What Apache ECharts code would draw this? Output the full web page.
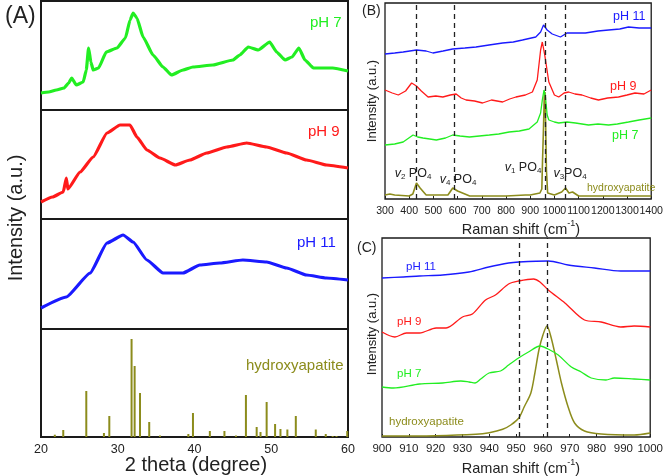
<!DOCTYPE html>
<html><head><meta charset="utf-8">
<script src="https://cdn.jsdelivr.net/npm/echarts@6/dist/echarts.min.js"></script>
<style>html,body{margin:0;padding:0;background:#fff}#c{width:666px;height:476px}</style>
</head><body><div id="c"></div>
<script>
// ---- Panel A: XRD (2 theta, intensity a.u.) ----
const xrdTicks = [20, 30, 40, 50, 60];
const xrdPH7 = [[20,17],[21,18],[22,20],[23,22],[23.6,27],[24,32],[24.6,25],[25.5,28],[25.9,40],[26.2,62],[26.5,48],[26.8,40],[27.5,42],[28.5,58],[29.9,62],[31,72],[31.6,90],[32,97],[32.5,92],[33.3,73],[34.6,55],[35.9,43],[37,35],[38.5,40],[39.8,43],[42.4,45],[45,50],[45.9,55],[47,63],[48.3,60],[49.8,68],[50.7,58],[51.8,50],[52.7,53],[53.6,62],[54.4,50],[55.5,42],[58,42],[60,39]];
const xrdPH9 = [[20,17],[21.5,22],[22.9,27],[23.3,41],[23.5,30],[25.1,47],[26.8,62],[28.6,86],[30.3,94],[31.6,94],[32.5,82],[33.8,69],[35.5,61],[37.5,54],[39.4,59],[41.6,66],[44.2,72],[46.8,76],[49.4,72],[52,66],[54.6,59],[57.2,54],[60,51]];
const xrdPH11 = [[20,21],[23.3,32],[26.4,56],[28.6,86],[30.7,94],[32,87],[33.8,69],[35.9,56],[38.5,56],[40.7,64],[43.3,66],[46.3,69],[49.4,67],[52,61],[54.6,54],[57.2,51],[60,49]];
const hapSticks = [[21.8,2.3],[22.9,7],[25.9,46],[28.2,4],[28.9,21],[31.8,98],[32.2,71],[32.9,44],[34.1,15],[35.5,1.5],[39.2,3],[39.8,24],[42.0,6],[43.9,6],[45.4,1.5],[46.7,42],[48.1,10],[48.6,5],[49.4,35],[50.5,13],[51.2,8],[52.1,7.5],[53.2,21],[55.8,7.5],[57.1,3],[58,1],[58.5,1],[59.9,6]];

// ---- Panel B: Raman 300-1400 ----
const ramanBTicks = [300,400,500,600,700,800,900,1000,1100,1200,1300,1400];
const ramanBPH11 = [[300,145],[340,146],[375,147],[430,149],[470,148],[498,146],[540,148],[580,150],[630,151],[676,152],[730,154],[786,156],[830,157],[868,159],[923,162],[943,167],[955,174],[970,169],[991,165],[1025,162],[1052,166],[1090,166],[1128,166],[1180,168],[1224,169],[1270,170],[1306,172],[1350,171],[1400,171]];
const ramanBPH9 = [[300,109],[330,106],[355,104],[385,108],[410,116],[430,113],[450,108],[478,102],[510,103],[539,102],[570,104],[594,105],[615,101],[635,99],[670,98],[703,96],[740,99],[786,97],[815,100],[841,102],[880,104],[909,107],[929,119],[943,149],[950,157],[960,144],[977,117],[1000,104],[1018,102],[1040,106],[1059,107],[1085,105],[1114,104],[1150,101],[1182,99],[1220,101],[1265,102],[1300,104],[1333,106],[1370,105],[1400,109]];
const ramanBPH7 = [[300,54],[340,55],[375,57],[416,64],[435,62],[457,61],[485,60],[512,59],[550,61],[580,64],[610,63],[649,62],[690,63],[731,64],[770,65],[813,67],[855,68],[895,70],[929,77],[943,86],[950,99],[957,109],[963,102],[970,84],[977,79],[1000,77],[1018,76],[1052,77],[1087,76],[1141,74],[1180,75],[1224,74],[1260,75],[1306,77],[1350,79],[1400,81]];
const ramanBHap = [[300,4],[320,5],[340,4],[400,3],[415,5],[430,16],[445,11],[470,4],[560,4],[580,11],[588,11],[600,8],[610,7],[650,3],[800,3],[880,4],[900,4],[940,6],[948,10],[951,39],[955,72],[958,102],[961,107],[964,72],[967,29],[972,6],[1000,4],[1030,7],[1046,11],[1060,6],[1075,7],[1100,3],[1400,3]];
const ramanBDashes = [430, 585, 961, 1046];

// ---- Panel C: Raman 900-1000 ----
const ramanCTicks = [900,910,920,930,940,950,960,970,980,990,1000];
const ramanCPH11 = [[900,159],[908,160],[914,161],[922.6,162],[932.4,165],[939.8,170],[947.2,174],[951,175],[962,176],[969.4,172],[979.2,169],[989,166],[1000,166]];
const ramanCPH9 = [[900,105],[904.8,100],[909.1,104],[914,104],[920.2,109],[923.9,109],[930,120],[933.7,123],[938.6,137],[942.3,142],[947.2,153],[951,156],[956.5,158],[958.9,155],[962,147],[968.2,134],[975.5,117],[981.7,115],[989,110],[994,111],[1000,110]];
const ramanCPH7 = [[900,50],[904.2,49],[914,53],[922.6,54],[929.4,56],[932.5,55],[934.7,54],[936.8,58],[939.9,64],[944.2,66],[947.2,72],[950.9,79],[954.6,85],[958.9,91],[962.6,87],[965.7,82],[970.6,70],[974.3,65],[978,59],[983.5,57],[986.6,59],[994,58],[1000,57]];
const ramanCHap = [[900,1],[920,1.3],[935,2.7],[940,4.3],[945,7.7],[948,12],[951,19],[953,30],[955.5,44],[957,64],[958.5,87],[960,102],[961.5,111],[963,100],[965,77],[966.9,54],[969.4,30],[971.8,14],[975.5,6],[981.7,3],[994,2],[1000,4]];
const ramanCDashes = [951.2, 961.6];

const GREEN = '#22ee22', RED = '#ff1a1a', BLUE = '#1a1aff', OLIVE = '#8c8c1c';
const FONT = 'Liberation Sans, Arial, sans-serif';

const chart = echarts.init(document.getElementById('c'), null, {renderer: 'canvas'});

function grid(l, t, w, h, bw) {
  return {left: l, top: t, width: w, height: h, show: true, borderColor: '#1a1a1a', borderWidth: bw, backgroundColor: 'transparent', containLabel: false};
}
const grids = [
  grid(41, 1, 307, 109, 2),
  grid(41, 110, 307, 109, 2),
  grid(41, 219, 307, 110, 2),
  grid(41, 329, 307, 108, 2),
  grid(385, 3, 268, 196, 1.3),
  grid(382, 238, 271, 199, 1.3)
];
function xA(i, min, max, interval, showLabels, fs, margin, ticks) {
  return {type: 'value', gridIndex: i, min: min, max: max, interval: interval,
    axisLine: {show: false}, splitLine: {show: false},
    axisTick: {show: ticks, inside: true, length: 3, lineStyle: {color: '#222'}},
    minorTick: {show: false},
    axisLabel: {show: showLabels, fontSize: fs, color: '#222', fontFamily: FONT, margin: margin,
      hideOverlap: false, showMinLabel: true, showMaxLabel: true, formatter: v => String(v)}};
}
function yA(i, max) {
  return {type: 'value', gridIndex: i, min: 0, max: max, show: false, splitLine: {show: false}};
}
const xAxes = [
  xA(0, 20, 60, 10, false, 12, 6, false),
  xA(1, 20, 60, 10, false, 12, 6, false),
  xA(2, 20, 60, 10, false, 12, 6, false),
  xA(3, 20, 60, 10, true, 12.5, 6, false),
  xA(4, 300, 1400, 100, true, 10.6, 7, true),
  xA(5, 900, 1000, 10, true, 11.5, 6, true)
];
const yAxes = [yA(0, 109), yA(1, 109), yA(2, 110), yA(3, 108), yA(4, 196), yA(5, 199)];

function line(i, data, color, w, smooth, mono, extra) {
  const s = {type: 'line', xAxisIndex: i, yAxisIndex: i, data: data, showSymbol: false, symbol: 'none',
    smooth: smooth, lineStyle: {color: color, width: w}, itemStyle: {color: color}, silent: true, animation: false};
  if (mono) s.smoothMonotone = 'x';
  return Object.assign(s, extra || {});
}
function dashes(vals) {
  return {silent: true, symbol: 'none', label: {show: false}, animation: false,
    lineStyle: {type: [5, 4], color: '#222', width: 1.3}, data: vals.map(v => ({xAxis: v}))};
}

const series = [
  line(0, xrdPH7, GREEN, 3.2, 0.15, true),
  line(1, xrdPH9, RED, 3.2, 0.15, true),
  line(2, xrdPH11, BLUE, 3.2, 0.15, true),
  {type: 'bar', xAxisIndex: 3, yAxisIndex: 3, data: hapSticks, barWidth: 2, itemStyle: {color: OLIVE}, silent: true, animation: false},
  line(4, ramanBHap, OLIVE, 1.6, false, false, {markLine: dashes(ramanBDashes)}),
  line(4, ramanBPH7, GREEN, 1.3, false, false),
  line(4, ramanBPH9, RED, 1.3, false, false),
  line(4, ramanBPH11, BLUE, 1.3, false, false),
  line(5, ramanCHap, OLIVE, 1.5, 0.3, false, {markLine: dashes(ramanCDashes)}),
  line(5, ramanCPH7, GREEN, 1.3, 0.3, false),
  line(5, ramanCPH9, RED, 1.3, 0.3, false),
  line(5, ramanCPH11, BLUE, 1.3, 0.3, false)
];

function txt(x, y, text, size, color, align, extra) {
  return Object.assign({type: 'text', x: x, y: y, silent: true,
    style: {text: text, fill: color || '#222', font: size + 'px ' + FONT, textAlign: align || 'left', textVerticalAlign: 'middle'}}, extra || {});
}
function richTxt(x, y, text, rich, align) {
  return {type: 'text', x: x, y: y, silent: true,
    style: {text: text, rich: rich, textAlign: align || 'center', textVerticalAlign: 'middle'}};
}
const nuRich = {
  i: {fontSize: 12.5, fontStyle: 'italic', fontFamily: FONT, fill: '#222', verticalAlign: 'bottom', lineHeight: 15},
  s: {fontSize: 8, fontFamily: FONT, fill: '#222', verticalAlign: 'bottom', lineHeight: 11},
  n: {fontSize: 12.5, fontFamily: FONT, fill: '#222', verticalAlign: 'bottom', lineHeight: 15}
};
const ramanRich = {
  a: {fontSize: 14.5, fontFamily: FONT, fill: '#222', verticalAlign: 'bottom', lineHeight: 18},
  u: {fontSize: 9, fontFamily: FONT, fill: '#222', verticalAlign: 'top', lineHeight: 18}
};

const graphics = [
  txt(5, 17, '(A)', 23, '#222'),
  txt(310, 23, 'pH 7', 15, GREEN),
  txt(308, 132, 'pH 9', 15, RED),
  txt(297, 243, 'pH 11', 15, BLUE),
  txt(246, 366, 'hydroxyapatite', 15, OLIVE),
  txt(196, 465, '2 theta (degree)', 20, '#222', 'center'),
  txt(16, 218, 'Intensity (a.u.)', 20, '#222', 'center', {rotation: Math.PI / 2}),
  txt(362, 11, '(B)', 14, '#222'),
  txt(613, 17, 'pH 11', 12.5, BLUE),
  txt(610, 87, 'pH 9', 12.5, RED),
  txt(612, 136, 'pH 7', 12.5, GREEN),
  txt(587, 188, 'hydroxyapatite', 10.5, OLIVE),
  richTxt(413, 173, '{i|v}{s|2}{n| PO}{s|4}', nuRich),
  richTxt(458, 179, '{i|v}{s|4}{n| PO}{s|4}', nuRich),
  richTxt(523, 167, '{i|v}{s|1}{n| PO}{s|4}', nuRich),
  richTxt(570, 173, '{i|v}{s|3}{n|PO}{s|4}', nuRich),
  richTxt(521, 228, '{a|Raman shift (cm}{u|-1}{a|)}', ramanRich),
  txt(372, 101, 'Intensity (a.u.)', 13, '#222', 'center', {rotation: Math.PI / 2}),
  txt(357, 248, '(C)', 14, '#222'),
  txt(406, 267, 'pH 11', 11.5, BLUE),
  txt(397, 322, 'pH 9', 11.5, RED),
  txt(397, 374, 'pH 7', 11.5, GREEN),
  txt(389, 422, 'hydroxyapatite', 11.5, OLIVE),
  richTxt(521, 467, '{a|Raman shift (cm}{u|-1}{a|)}', ramanRich),
  txt(372, 334, 'Intensity (a.u.)', 13, '#222', 'center', {rotation: Math.PI / 2})
];

chart.setOption({
  animation: false,
  backgroundColor: '#fff',
  grid: grids,
  xAxis: xAxes,
  yAxis: yAxes,
  series: series,
  graphic: graphics
});
</script></body></html>
